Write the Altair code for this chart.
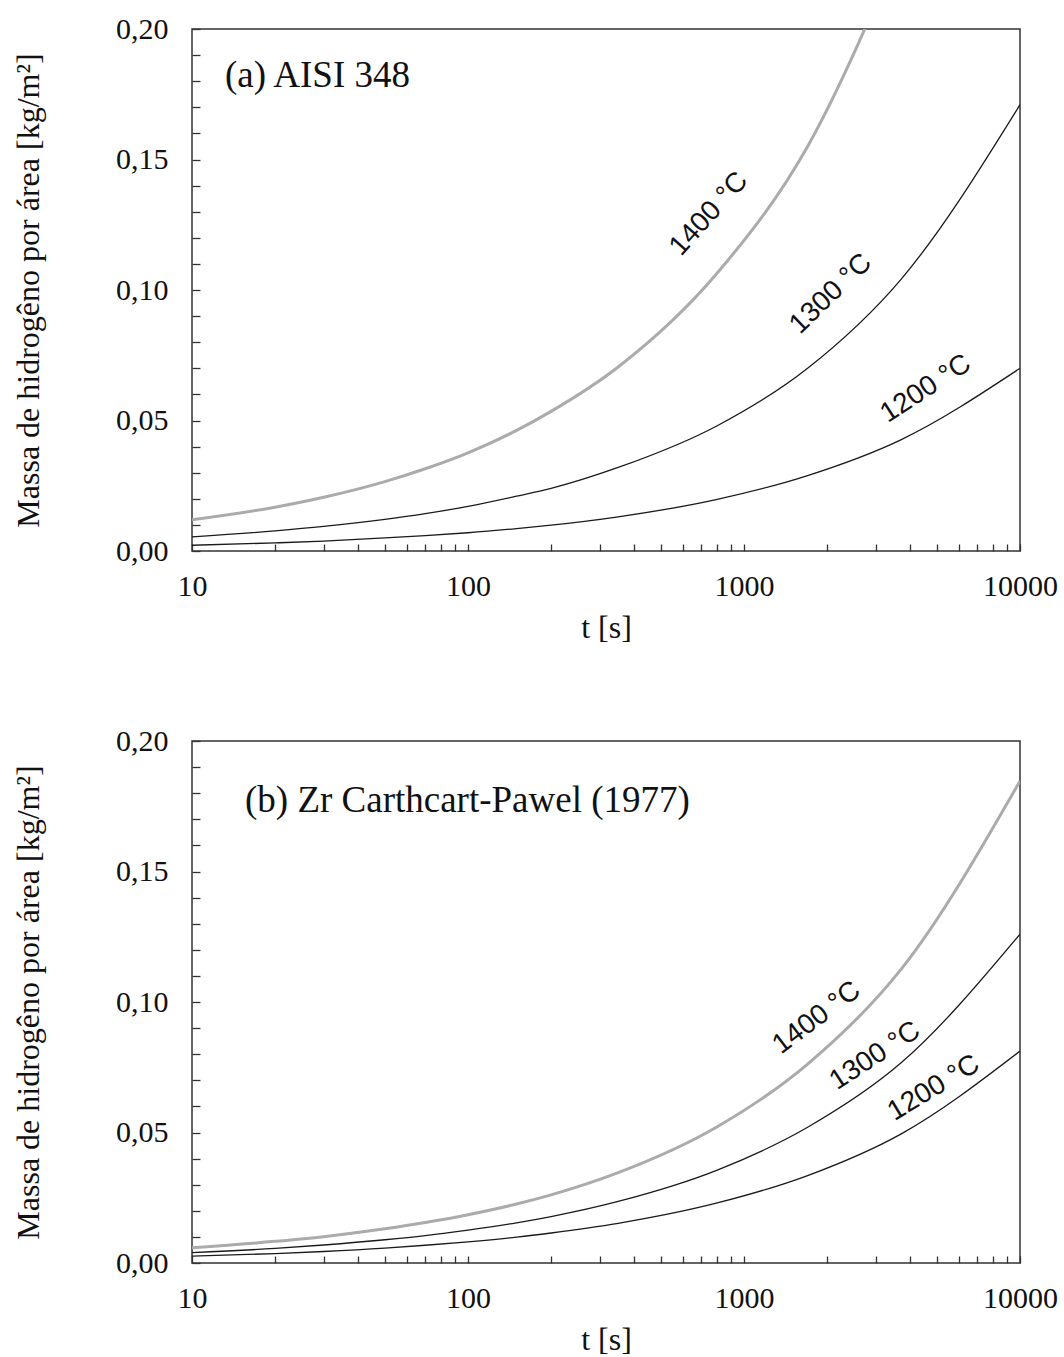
import altair as alt
import pandas as pd

# ---- data ----
t_vals = [10, 20, 30, 50, 70, 100, 150, 200, 350, 800, 1700, 3700, 10000]

# (a) AISI 348
a_1400 = [0.0120, 0.0168, 0.0206, 0.0266, 0.0315, 0.0376, 0.0462, 0.0535, 0.0705, 0.1065, 0.1550, 0.2320]
a_1300 = [0.0054, 0.0077, 0.0094, 0.0121, 0.0143, 0.0171, 0.0210, 0.0240, 0.0320, 0.0480, 0.0700, 0.1040, 0.1710]
a_1200 = [0.0022, 0.0031, 0.0038, 0.0050, 0.0059, 0.0070, 0.0086, 0.0099, 0.0131, 0.0198, 0.0289, 0.0426, 0.0700]

# (b) Zr Carthcart-Pawel (1977)
b_1400 = [0.0058, 0.0083, 0.0101, 0.0131, 0.0155, 0.0185, 0.0226, 0.0261, 0.0346, 0.0522, 0.0762, 0.1124, 0.1847]
b_1300 = [0.0040, 0.0056, 0.0069, 0.0089, 0.0105, 0.0126, 0.0154, 0.0178, 0.0236, 0.0356, 0.0520, 0.0766, 0.1260]
b_1200 = [0.0026, 0.0036, 0.0044, 0.0057, 0.0068, 0.0081, 0.0099, 0.0115, 0.0152, 0.0230, 0.0335, 0.0494, 0.0812]

series_names = ["1400 °C", "1300 °C", "1200 °C"]

# curve label positions (t, mass) and angles
a_lab_t = [747, 2065, 4560]
a_lab_y = [0.1291, 0.0985, 0.0621]
a_lab_angle = [312, 316, 327]
b_lab_t = [1836, 2985, 4870]
b_lab_y = [0.0939, 0.0793, 0.0670]
b_lab_angle = [323, 327, 329]

panel_titles = ["(a) AISI 348", "(b) Zr Carthcart-Pawel (1977)"]
title_t = [13.17, 15.56]
title_y = [0.182, 0.177]

x_ticks = [10, 20, 30, 40, 50, 60, 70, 80, 90,
           100, 200, 300, 400, 500, 600, 700, 800, 900,
           1000, 2000, 3000, 4000, 5000, 6000, 7000, 8000, 9000, 10000]
y_ticks = [round(i * 0.01, 2) for i in range(21)]

SERIF = "Liberation Serif"
SANS = "Liberation Sans"


def make_df(vals_list):
    rows = []
    for name, vals in zip(series_names, vals_list):
        for tv, v in zip(t_vals, vals):
            rows.append({"t": tv, "m": v, "serie": name})
    return pd.DataFrame(rows)


x_scale = alt.Scale(type="log", domain=[10, 10000], nice=False)
y_scale = alt.Scale(domain=[0, 0.2], nice=False, zero=False)

x_axis = alt.Axis(
    values=x_ticks,
    labelExpr="(datum.value == 10 || datum.value == 100 || datum.value == 1000 || datum.value == 10000) ? toString(datum.value) : ''",
    tickSize=7, offset=-7, domain=False, grid=False,
    labelPadding=20, labelOverlap=False, labelFlush=False,
    title="t [s]", titlePadding=11,
)
y_axis = alt.Axis(
    values=y_ticks,
    labelExpr="abs(datum.value * 20 - round(datum.value * 20)) < 0.000001 ? replace(format(datum.value, '.2f'), '.', ',') : ''",
    tickSize=8, offset=-8, domain=False, grid=False,
    labelPadding=24, labelOverlap=False, labelFlush=False,
    title="Massa de hidrogêno por área [kg/m²]", titlePadding=70,
)


def panel(vals_list, lab_t, lab_y, lab_angle, title_text, tt, ty):
    df = make_df(vals_list)
    base = alt.Chart(df).encode(
        x=alt.X("t:Q", scale=x_scale, axis=x_axis),
        y=alt.Y("m:Q", scale=y_scale, axis=y_axis),
        detail="serie:N",
    )
    gray = base.transform_filter(alt.datum.serie == "1400 °C").mark_line(
        color="#ababab", strokeWidth=3, clip=True, interpolate="monotone")
    black = base.transform_filter(alt.datum.serie != "1400 °C").mark_line(
        color="#1a1a1a", strokeWidth=1.3, clip=True, interpolate="monotone")

    layers = [gray, black]
    for name, lt, ly, ang in zip(series_names, lab_t, lab_y, lab_angle):
        ldf = pd.DataFrame({"t": [lt], "m": [ly], "txt": [name]})
        layers.append(
            alt.Chart(ldf).mark_text(
                font=SANS, fontSize=28, angle=ang, align="center",
                baseline="middle", color="#111111",
            ).encode(
                x=alt.X("t:Q", scale=x_scale, axis=x_axis),
                y=alt.Y("m:Q", scale=y_scale, axis=y_axis),
                text="txt:N",
            )
        )
    tdf = pd.DataFrame({"t": [tt], "m": [ty], "txt": [title_text]})
    layers.append(
        alt.Chart(tdf).mark_text(
            font=SERIF, fontSize=37, align="left", baseline="middle", color="#111111",
        ).encode(
            x=alt.X("t:Q", scale=x_scale, axis=x_axis),
            y=alt.Y("m:Q", scale=y_scale, axis=y_axis),
            text="txt:N",
        )
    )
    return alt.layer(*layers).properties(width=828, height=522)


top = panel([a_1400, a_1300, a_1200], a_lab_t, a_lab_y, a_lab_angle,
            panel_titles[0], title_t[0], title_y[0])
bottom = panel([b_1400, b_1300, b_1200], b_lab_t, b_lab_y, b_lab_angle,
               panel_titles[1], title_t[1], title_y[1])

chart = alt.vconcat(top, bottom, spacing=81).properties(
    padding={"left": 11, "top": 13, "right": 0, "bottom": 0},
    background="white",
).configure_view(
    stroke="#333333", strokeWidth=1.5,
).configure_axis(
    labelFont=SERIF, labelFontSize=30, labelColor="#111111",
    titleFont=SERIF, titleFontSize=32, titleColor="#111111", titleFontWeight="normal",
    tickColor="#333333", tickWidth=1.3,
)

chart.save("out.html", embed_options={"renderer": "svg", "actions": False})
